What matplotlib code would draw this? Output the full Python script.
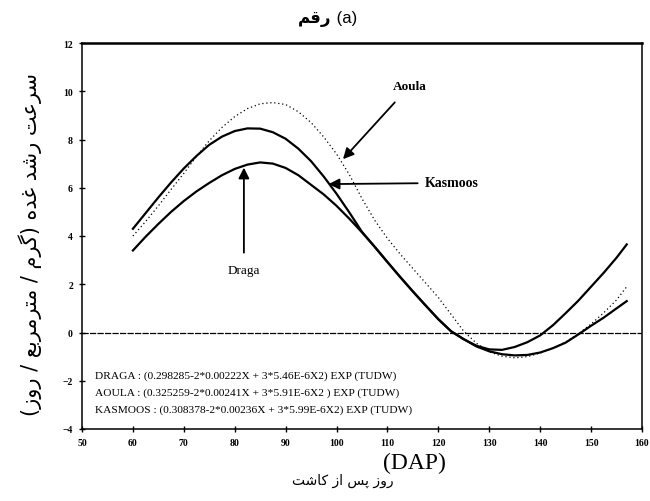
import matplotlib
matplotlib.use("Agg")
import matplotlib.pyplot as plt

# days after planting and crop growth rate
days = [60, 62.5, 65, 67.5, 70, 72.5, 75, 77.5, 80, 82.5, 85, 87.5, 90, 92.5, 95, 97.5,
        100, 102.5, 105, 107.5, 110, 112.5, 115, 117.5, 120, 122.5, 125, 127.5, 130,
        132.5, 135, 137.5, 140, 142.5, 145, 147.5, 150, 152.5, 155, 157]
kasmoos = [4.3, 4.95, 5.6, 6.22, 6.8, 7.32, 7.78, 8.12, 8.35, 8.46, 8.45, 8.3, 8.03, 7.62,
           7.1, 6.46, 5.75, 4.98, 4.17, 3.55, 2.92, 2.3, 1.7, 1.12, 0.55, 0.05, -0.28,
           -0.55, -0.7, -0.72, -0.6, -0.4, -0.12, 0.3, 0.8, 1.32, 1.9, 2.48, 3.1, 3.65]
drago = [3.4, 3.97, 4.5, 5.0, 5.45, 5.85, 6.2, 6.52, 6.78, 6.96, 7.05, 7.0, 6.82, 6.52,
         6.12, 5.72, 5.25, 4.72, 4.15, 3.55, 2.92, 2.3, 1.7, 1.12, 0.55, 0.05, -0.28,
         -0.58, -0.78, -0.9, -0.95, -0.93, -0.83, -0.65, -0.42, -0.08, 0.28, 0.62, 1.0, 1.3]
aoula = [4.0, 4.6, 5.25, 5.93, 6.6, 7.3, 7.95, 8.5, 8.95, 9.28, 9.48, 9.53, 9.45, 9.15,
         8.7, 8.1, 7.4, 6.55, 5.55, 4.65, 3.9, 3.25, 2.65, 2.05, 1.45, 0.75, 0.05,
         -0.45, -0.8, -0.98, -1.05, -1.0, -0.85, -0.65, -0.4, -0.05, 0.35, 0.82, 1.35, 1.9]

x_ticks = [50, 60, 70, 80, 90, 100, 110, 120, 130, 140, 150, 160]
y_ticks = [-4, -2, 0, 2, 4, 6, 8, 10, 12]

equations = [
    "DRAGA : (0.298285-2*0.00222X + 3*5.46E-6X2) EXP (TUDW)",
    "AOULA : (0.325259-2*0.00241X + 3*5.91E-6X2 ) EXP (TUDW)",
    "KASMOOS : (0.308378-2*0.00236X + 3*5.99E-6X2) EXP (TUDW)",
]

title_fa = "رقم"
ylabel_fa = "سرعت رشد غده (گرم / مترمربع / روز)"
xlabel_fa = "روز پس از کاشت"

# matplotlib has no arabic shaping, so do a tiny one by hand
FORMS = {
    "ا": ("\uFE8D", "\uFE8E", None, None),
    "ب": ("\uFE8F", "\uFE90", "\uFE91", "\uFE92"),
    "پ": ("\uFB56", "\uFB57", "\uFB58", "\uFB59"),
    "ت": ("\uFE95", "\uFE96", "\uFE97", "\uFE98"),
    "د": ("\uFEA9", "\uFEAA", None, None),
    "ر": ("\uFEAD", "\uFEAE", None, None),
    "ز": ("\uFEAF", "\uFEB0", None, None),
    "س": ("\uFEB1", "\uFEB2", "\uFEB3", "\uFEB4"),
    "ش": ("\uFEB5", "\uFEB6", "\uFEB7", "\uFEB8"),
    "ع": ("\uFEC9", "\uFECA", "\uFECB", "\uFECC"),
    "غ": ("\uFECD", "\uFECE", "\uFECF", "\uFED0"),
    "ق": ("\uFED5", "\uFED6", "\uFED7", "\uFED8"),
    "ک": ("\uFB8E", "\uFB8F", "\uFB90", "\uFB91"),
    "گ": ("\uFB92", "\uFB93", "\uFB94", "\uFB95"),
    "م": ("\uFEE1", "\uFEE2", "\uFEE3", "\uFEE4"),
    "ه": ("\uFEE9", "\uFEEA", "\uFEEB", "\uFEEC"),
    "و": ("\uFEED", "\uFEEE", None, None),
}


def rtl(text):
    out = []
    for i, ch in enumerate(text):
        if ch not in FORMS:
            out.append({"(": ")", ")": "("}.get(ch, ch))
            continue
        prev = text[i - 1] if i > 0 else ""
        nxt = text[i + 1] if i + 1 < len(text) else ""
        join_prev = prev in FORMS and FORMS[prev][2] is not None
        join_next = nxt in FORMS and FORMS[ch][2] is not None
        iso, fin, ini, med = FORMS[ch]
        if join_prev and join_next:
            out.append(med)
        elif join_prev:
            out.append(fin)
        elif join_next:
            out.append(ini)
        else:
            out.append(iso)
    return "".join(reversed(out))


fig = plt.figure(figsize=(6.5, 5.02), dpi=100)
ax = fig.add_axes([82 / 650, 1 - 430 / 502, 560 / 650, 386 / 502])

ax.plot(days, kasmoos, color="black", lw=1.6)
ax.plot(days, drago, color="black", lw=1.6)
ax.plot(days, aoula, color="black", lw=0.9, linestyle=(0, (1, 2.2)))
ax.axhline(0, color="black", lw=0.9, linestyle=(0, (5, 1)))

ax.set_xlim(50, 160)
ax.set_ylim(-4, 12)
ax.set_xticks(x_ticks)
ax.set_yticks(y_ticks)
ax.tick_params(direction="inout", length=5, width=1, labelsize=7, pad=4)
for lab in ax.get_xticklabels() + ax.get_yticklabels():
    lab.set_fontfamily("Liberation Serif")
    lab.set_fontweight("bold")
for side in ["left", "bottom", "right"]:
    ax.spines[side].set_linewidth(1.1)
ax.spines["top"].set_linewidth(1.8)

arrow = dict(arrowstyle="-|>", color="black", lw=1.3, mutation_scale=16)
ax.annotate("Aoula", xy=(100.9, 7.1), xytext=(114.3, 10.2), ha="center", va="center",
            fontsize=9.5, fontfamily="Liberation Serif", fontweight="bold",
            arrowprops=dict(arrow, shrinkA=7))
ax.annotate("Kasmoos", xy=(97.9, 6.15), xytext=(117.3, 6.2), ha="left", va="center",
            fontsize=10, fontfamily="Liberation Serif", fontweight="bold",
            arrowprops=dict(arrow, shrinkA=3))
ax.annotate("Draga", xy=(81.8, 6.95), xytext=(81.8, 2.6), ha="center", va="center",
            fontsize=9.5, fontfamily="Liberation Serif",
            arrowprops=dict(arrow, shrinkA=6))

for i, eq in enumerate(equations):
    ax.text(52.6, -1.75 - 0.72 * i, eq, fontsize=8.2, fontfamily="Liberation Serif",
            va="center", ha="left")

fig.text(0.51, 1 - 18 / 502, rtl(title_fa), ha="right", va="center",
         fontsize=12, fontfamily="DejaVu Sans", fontweight="bold")
fig.text(0.51, 1 - 18 / 502, " (a)", ha="left", va="center",
         fontsize=12, fontfamily="Liberation Sans")

fig.text(30 / 650, 1 - 245 / 502, rtl(ylabel_fa), rotation=90, ha="center", va="center",
         fontsize=15, fontfamily="DejaVu Sans")

fig.text(383 / 650, 1 - 463 / 502, "(DAP)", ha="left", va="center",
         fontsize=17, fontfamily="Liberation Serif")
fig.text(394 / 650, 1 - 481 / 502, rtl(xlabel_fa), ha="right", va="center",
         fontsize=10, fontfamily="DejaVu Sans")

fig.savefig("out.png", dpi=100)
